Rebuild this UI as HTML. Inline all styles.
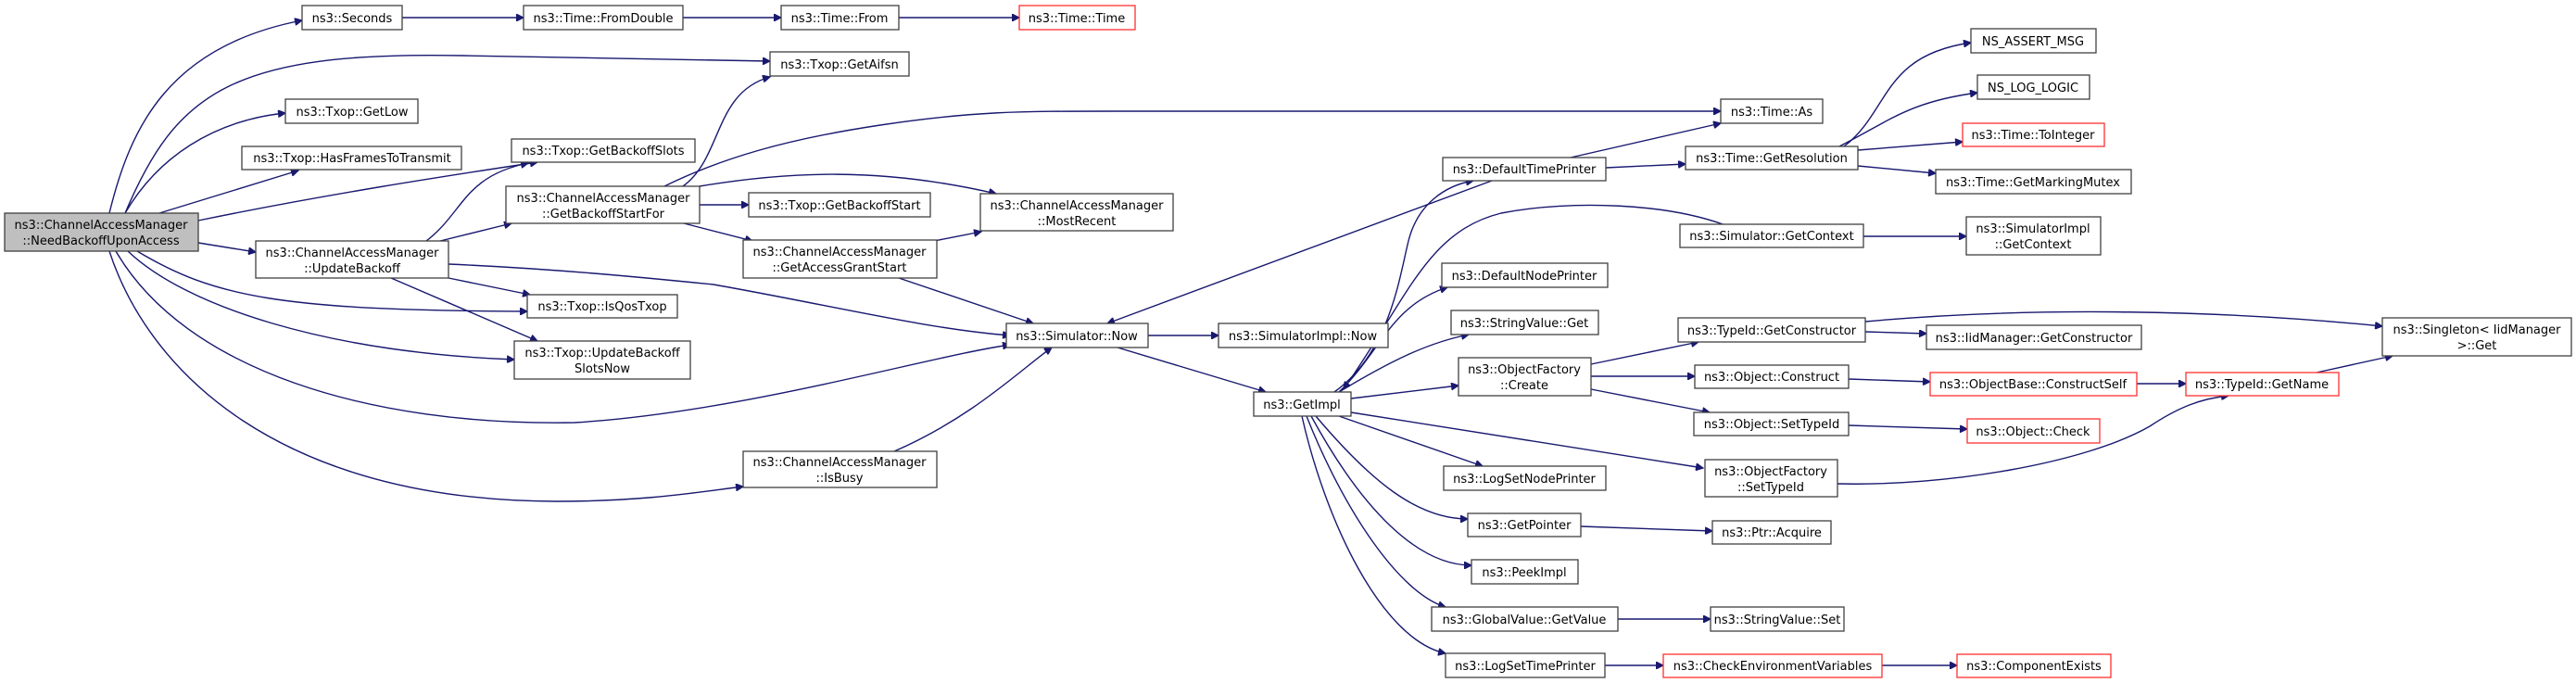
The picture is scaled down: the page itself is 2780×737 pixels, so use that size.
<!DOCTYPE html>
<html><head><meta charset="utf-8"><style>
html,body{margin:0;padding:0;background:#fff;}
svg{display:block;}
text{font-family:"DejaVu Sans","Liberation Sans",sans-serif;font-size:13px;fill:#000;text-anchor:middle;}
.b{fill:#fff;stroke:#404040;stroke-width:1.3;}
.r{fill:#fff;stroke:#ff3030;stroke-width:1.3;}
.m{fill:#bfbfbf;stroke:#404040;stroke-width:1.3;}
path.e{fill:none;stroke:#191970;stroke-width:1.4;}
</style></head><body>
<svg width="2780" height="737" viewBox="0 0 2780 737" xmlns="http://www.w3.org/2000/svg">
<defs><marker id="a" viewBox="0 0 10 10" refX="9.5" refY="5" markerWidth="10" markerHeight="8" markerUnits="userSpaceOnUse" orient="auto"><path d="M0,0 L10,5 L0,10 z" fill="#191970" stroke="#191970"/></marker></defs>
<g marker-end="url(#a)">
<path class="e" d="M118,230 C140,140 180,50 326,22"/>
<path class="e" d="M135,230 C190,100 250,55 500,60 L831,66"/>
<path class="e" d="M135,230 C170,170 230,130 308,122"/>
<path class="e" d="M172,230 L322,184"/>
<path class="e" d="M214,238 C350,210 480,190 580,175"/>
<path class="e" d="M214,262 L276,272"/>
<path class="e" d="M148,271 C230,320 300,335 569,336"/>
<path class="e" d="M138,271 C200,330 350,380 555,388"/>
<path class="e" d="M125,271 C200,400 400,460 620,456 C800,445 1000,385 1090,372"/>
<path class="e" d="M118,271 C160,400 300,540 600,541 C700,541 760,530 802,525"/>
<path class="e" d="M460,260 C500,230 500,190 570,176"/>
<path class="e" d="M475,260 L552,241"/>
<path class="e" d="M484,300 L572,318"/>
<path class="e" d="M422,300 L580,368"/>
<path class="e" d="M484,285 C600,290 700,300 770,307 C900,330 1000,355 1090,362"/>
<path class="e" d="M737,201 C780,170 770,100 831,83"/>
<path class="e" d="M717,201 C780,170 850,150 950,135 C1050,120 1100,120 1200,120 L1857,120"/>
<path class="e" d="M755,201 C850,185 950,180 1075,209"/>
<path class="e" d="M755,221 L808,221"/>
<path class="e" d="M738,241 L812,260"/>
<path class="e" d="M1008,260 L1059,250"/>
<path class="e" d="M970,300 L1115,349"/>
<path class="e" d="M965,487 C1050,450 1100,400 1135,375"/>
<path class="e" d="M434,19 L565,19"/>
<path class="e" d="M737,19 L843,19"/>
<path class="e" d="M970,19 L1100,19"/>
<path class="e" d="M1239,362 L1315,362"/>
<path class="e" d="M1206,375 L1366,423"/>
<path class="e" d="M1610,195 L1195,349"/>
<path class="e" d="M1695,170 L1857,133"/>
<path class="e" d="M1733,181 L1819,177"/>
<path class="e" d="M1440,423 C1500,380 1510,300 1520,260 C1530,220 1560,200 1590,195"/>
<path class="e" d="M1862,243 C1800,220 1700,215 1620,230 C1540,250 1520,320 1450,420"/>
<path class="e" d="M1445,423 C1490,380 1500,330 1562,310"/>
<path class="e" d="M1445,423 C1500,390 1540,370 1585,361"/>
<path class="e" d="M1458,430 L1574,416"/>
<path class="e" d="M1445,449 L1600,503"/>
<path class="e" d="M1458,445 L1838,505"/>
<path class="e" d="M1420,449 C1480,520 1530,560 1584,560"/>
<path class="e" d="M1415,449 C1470,550 1530,610 1588,610"/>
<path class="e" d="M1410,449 C1450,550 1510,640 1560,655"/>
<path class="e" d="M1405,449 C1430,560 1490,690 1560,705"/>
<path class="e" d="M1717,393 L1833,369"/>
<path class="e" d="M1717,406 L1829,406"/>
<path class="e" d="M1717,420 L1845,445"/>
<path class="e" d="M1706,568 L1848,573"/>
<path class="e" d="M1746,668 L1846,668"/>
<path class="e" d="M1732,718 L1795,718"/>
<path class="e" d="M2031,718 L2112,718"/>
<path class="e" d="M1990,158 C2040,120 2030,60 2127,46"/>
<path class="e" d="M1985,158 C2040,130 2060,110 2134,100"/>
<path class="e" d="M2005,162 L2118,153"/>
<path class="e" d="M2005,179 L2089,187"/>
<path class="e" d="M2011,255 L2122,255"/>
<path class="e" d="M2013,358 L2079,360"/>
<path class="e" d="M2013,347 C2200,330 2400,335 2571,352"/>
<path class="e" d="M1995,409 L2083,412"/>
<path class="e" d="M2306,414 L2359,414"/>
<path class="e" d="M2500,402 L2582,384"/>
<path class="e" d="M1995,459 L2123,463"/>
<path class="e" d="M1983,522 C2100,525 2250,500 2320,460 C2350,440 2375,430 2405,427"/>
</g>
<rect class="m" x="5" y="230" width="209" height="41"/><text x="109" y="247">ns3::ChannelAccessManager</text><text x="109" y="264">::NeedBackoffUponAccess</text>
<rect class="b" x="326" y="6" width="108" height="26"/><text x="380" y="24">ns3::Seconds</text>
<rect class="b" x="565" y="6" width="172" height="26"/><text x="651" y="24">ns3::Time::FromDouble</text>
<rect class="b" x="843" y="6" width="127" height="26"/><text x="906" y="24">ns3::Time::From</text>
<rect class="r" x="1100" y="6" width="125" height="26"/><text x="1162" y="24">ns3::Time::Time</text>
<rect class="b" x="831" y="56" width="150" height="26"/><text x="906" y="74">ns3::Txop::GetAifsn</text>
<rect class="b" x="308" y="107" width="143" height="26"/><text x="380" y="125">ns3::Txop::GetLow</text>
<rect class="b" x="261" y="158" width="237" height="25"/><text x="380" y="175">ns3::Txop::HasFramesToTransmit</text>
<rect class="b" x="552" y="150" width="198" height="25"/><text x="651" y="167">ns3::Txop::GetBackoffSlots</text>
<rect class="b" x="546" y="201" width="209" height="40"/><text x="651" y="218">ns3::ChannelAccessManager</text><text x="651" y="235">::GetBackoffStartFor</text>
<rect class="b" x="808" y="208" width="196" height="26"/><text x="906" y="226">ns3::Txop::GetBackoffStart</text>
<rect class="b" x="802" y="259" width="209" height="41"/><text x="906" y="276">ns3::ChannelAccessManager</text><text x="906" y="293">::GetAccessGrantStart</text>
<rect class="b" x="1058" y="209" width="208" height="40"/><text x="1162" y="226">ns3::ChannelAccessManager</text><text x="1162" y="243">::MostRecent</text>
<rect class="b" x="276" y="260" width="208" height="40"/><text x="380" y="277">ns3::ChannelAccessManager</text><text x="380" y="294">::UpdateBackoff</text>
<rect class="b" x="569" y="318" width="162" height="25"/><text x="650" y="335">ns3::Txop::IsQosTxop</text>
<rect class="b" x="555" y="368" width="190" height="41"/><text x="650" y="385">ns3::Txop::UpdateBackoff</text><text x="650" y="402">SlotsNow</text>
<rect class="b" x="802" y="487" width="209" height="39"/><text x="906" y="503">ns3::ChannelAccessManager</text><text x="906" y="520">::IsBusy</text>
<rect class="b" x="1086" y="349" width="153" height="26"/><text x="1162" y="367">ns3::Simulator::Now</text>
<rect class="b" x="1315" y="349" width="183" height="26"/><text x="1406" y="367">ns3::SimulatorImpl::Now</text>
<rect class="b" x="1353" y="423" width="105" height="26"/><text x="1405" y="441">ns3::GetImpl</text>
<rect class="b" x="1557" y="170" width="176" height="25"/><text x="1645" y="187">ns3::DefaultTimePrinter</text>
<rect class="b" x="1556" y="284" width="179" height="26"/><text x="1645" y="302">ns3::DefaultNodePrinter</text>
<rect class="b" x="1566" y="335" width="159" height="26"/><text x="1645" y="353">ns3::StringValue::Get</text>
<rect class="b" x="1574" y="386" width="143" height="41"/><text x="1645" y="403">ns3::ObjectFactory</text><text x="1645" y="420">::Create</text>
<rect class="b" x="1558" y="503" width="175" height="26"/><text x="1645" y="521">ns3::LogSetNodePrinter</text>
<rect class="b" x="1584" y="554" width="122" height="25"/><text x="1645" y="571">ns3::GetPointer</text>
<rect class="b" x="1588" y="604" width="115" height="26"/><text x="1645" y="622">ns3::PeekImpl</text>
<rect class="b" x="1545" y="655" width="201" height="26"/><text x="1645" y="673">ns3::GlobalValue::GetValue</text>
<rect class="b" x="1560" y="705" width="172" height="26"/><text x="1646" y="723">ns3::LogSetTimePrinter</text>
<rect class="b" x="1857" y="107" width="110" height="26"/><text x="1912" y="125">ns3::Time::As</text>
<rect class="b" x="1819" y="158" width="186" height="25"/><text x="1912" y="175">ns3::Time::GetResolution</text>
<rect class="b" x="1813" y="242" width="198" height="25"/><text x="1912" y="259">ns3::Simulator::GetContext</text>
<rect class="b" x="1811" y="343" width="202" height="26"/><text x="1912" y="361">ns3::TypeId::GetConstructor</text>
<rect class="b" x="1829" y="394" width="166" height="25"/><text x="1912" y="411">ns3::Object::Construct</text>
<rect class="b" x="1828" y="445" width="167" height="25"/><text x="1912" y="462">ns3::Object::SetTypeId</text>
<rect class="b" x="1840" y="496" width="143" height="40"/><text x="1911" y="513">ns3::ObjectFactory</text><text x="1911" y="530">::SetTypeId</text>
<rect class="b" x="1848" y="562" width="128" height="25"/><text x="1912" y="579">ns3::Ptr::Acquire</text>
<rect class="b" x="1846" y="655" width="144" height="26"/><text x="1918" y="673">ns3::StringValue::Set</text>
<rect class="r" x="1795" y="706" width="236" height="25"/><text x="1913" y="723">ns3::CheckEnvironmentVariables</text>
<rect class="b" x="2127" y="31" width="135" height="26"/><text x="2194" y="49">NS_ASSERT_MSG</text>
<rect class="b" x="2134" y="81" width="121" height="26"/><text x="2194" y="99">NS_LOG_LOGIC</text>
<rect class="r" x="2118" y="133" width="153" height="25"/><text x="2194" y="150">ns3::Time::ToInteger</text>
<rect class="b" x="2089" y="183" width="211" height="26"/><text x="2194" y="201">ns3::Time::GetMarkingMutex</text>
<rect class="b" x="2122" y="234" width="145" height="41"/><text x="2194" y="251">ns3::SimulatorImpl</text><text x="2194" y="268">::GetContext</text>
<rect class="b" x="2079" y="351" width="232" height="26"/><text x="2195" y="369">ns3::IidManager::GetConstructor</text>
<rect class="r" x="2083" y="402" width="223" height="25"/><text x="2194" y="419">ns3::ObjectBase::ConstructSelf</text>
<rect class="r" x="2123" y="452" width="143" height="26"/><text x="2194" y="470">ns3::Object::Check</text>
<rect class="r" x="2112" y="706" width="166" height="25"/><text x="2195" y="723">ns3::ComponentExists</text>
<rect class="r" x="2359" y="402" width="165" height="25"/><text x="2441" y="419">ns3::TypeId::GetName</text>
<rect class="b" x="2571" y="343" width="204" height="41"/><text x="2673" y="360">ns3::Singleton&lt; IidManager</text><text x="2673" y="377">&gt;::Get</text>
</svg>
</body></html>
